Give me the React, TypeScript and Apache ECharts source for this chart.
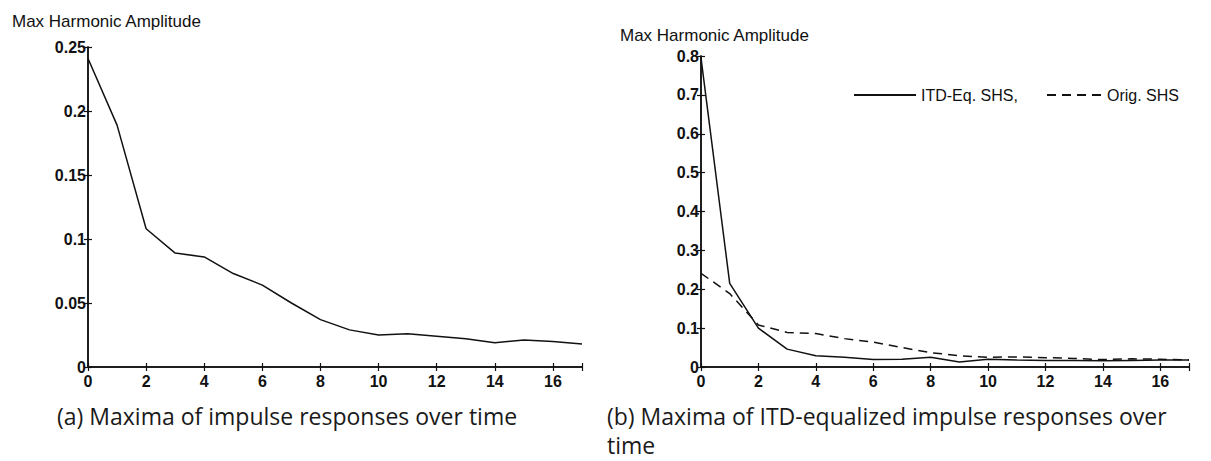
import { useEffect, useRef } from "react";
import * as echarts from "echarts";

// Time index (x axis) shared by both panels
const steps: number[] = [0, 1, 2, 3, 4, 5, 6, 7, 8, 9, 10, 11, 12, 13, 14, 15, 16, 17];

// Maxima of the original impulse responses (panel a, and the dashed curve in panel b)
const origMax: number[] = [
  0.241, 0.189, 0.108, 0.089, 0.086, 0.073, 0.064, 0.05, 0.037, 0.029, 0.025, 0.026, 0.024,
  0.022, 0.019, 0.021, 0.02, 0.018,
];

// Maxima of the ITD-equalized impulse responses (solid curve in panel b)
const itdEqMax: number[] = [
  0.795, 0.215, 0.1, 0.046, 0.029, 0.025, 0.019, 0.02, 0.025, 0.013, 0.02, 0.018, 0.017,
  0.017, 0.016, 0.017, 0.018, 0.018,
];

const xTickValues: number[] = [0, 2, 4, 6, 8, 10, 12, 14, 16];
const yTicksA: number[] = [0, 0.05, 0.1, 0.15, 0.2, 0.25];
const yTicksB: number[] = [0, 0.1, 0.2, 0.3, 0.4, 0.5, 0.6, 0.7, 0.8];

const axisTitle = "Max Harmonic Amplitude";
const seriesNames = ["ITD-Eq. SHS,", "Orig. SHS"];
const captionA = "(a) Maxima of impulse responses over time";
const captionB = "(b) Maxima of ITD-equalized impulse responses over\ntime";

const FONT = "'Liberation Sans', Arial, Helvetica, sans-serif";
const CAPTION_FONT = "'Open Sans', Lato, sans-serif";
const INK = "#111";

function App() {
  const ref = useRef<HTMLDivElement>(null);

  useEffect(() => {
    if (!ref.current) return;
    const chart = echarts.init(ref.current, undefined, { renderer: "svg" });

    const axisLine = { show: true, lineStyle: { color: INK, width: 1.5 } };
    const tick = { show: true, inside: true, length: 4, lineStyle: { color: INK, width: 1.2 } };
    const tickLabel = {
      color: INK,
      fontFamily: FONT,
      fontSize: 16,
      fontWeight: "bold" as const,
    };

    const xAxisFor = (gridIndex: number, position: "bottom" | "top") => ({
      type: "value" as const,
      gridIndex,
      position,
      min: steps[0],
      max: steps[steps.length - 1],
      interval: xTickValues[1] - xTickValues[0],
      axisLine,
      axisTick: tick,
      splitLine: { show: false },
      axisLabel:
        position === "bottom"
          ? {
              ...tickLabel,
              margin: 6,
              formatter: (v: number) => (xTickValues.includes(v) ? String(v) : ""),
            }
          : { show: false },
    });

    const yAxisFor = (
      gridIndex: number,
      position: "left" | "right",
      ticks: number[],
    ) => ({
      type: "value" as const,
      gridIndex,
      position,
      min: ticks[0],
      max: ticks[ticks.length - 1],
      interval: ticks[1] - ticks[0],
      axisLine,
      axisTick: tick,
      splitLine: { show: false },
      axisLabel:
        position === "left"
          ? {
              ...tickLabel,
              margin: 2,
              formatter: (v: number) => String(parseFloat(v.toFixed(2))),
            }
          : { show: false },
    });

    const lineSeries = (
      name: string,
      values: number[],
      xAxisIndex: number,
      yAxisIndex: number,
      dashed: boolean,
    ) => ({
      name,
      type: "line" as const,
      xAxisIndex,
      yAxisIndex,
      data: steps.map((s, i) => [s, values[i]]),
      symbol: "none",
      lineStyle: {
        color: INK,
        width: 1.5,
        type: dashed ? ([9, 6] as number[]) : ("solid" as const),
      },
      itemStyle: { color: INK },
      emphasis: { disabled: true },
      z: 3,
    });

    const legendText = { color: INK, fontFamily: FONT, fontSize: 16 };

    chart.setOption({
      animation: false,
      backgroundColor: "#fff",
      textStyle: { fontFamily: FONT },
      grid: [
        { left: 88, top: 47, width: 494, height: 320 },
        { left: 701, top: 56, width: 488, height: 311 },
      ],
      xAxis: [
        xAxisFor(0, "bottom"),
        xAxisFor(0, "top"),
        xAxisFor(1, "bottom"),
        xAxisFor(1, "top"),
      ],
      yAxis: [
        yAxisFor(0, "left", yTicksA),
        yAxisFor(0, "right", yTicksA),
        yAxisFor(1, "left", yTicksB),
        yAxisFor(1, "right", yTicksB),
      ],
      legend: [
        {
          data: [seriesNames[0]],
          left: 853,
          top: 87,
          padding: 0,
          itemWidth: 62,
          itemHeight: 14,
          itemStyle: { opacity: 0 },
          textStyle: legendText,
          selectedMode: false,
        },
        {
          data: [seriesNames[1]],
          left: 1046,
          top: 87,
          padding: 0,
          itemWidth: 58,
          itemHeight: 14,
          itemStyle: { opacity: 0 },
          textStyle: { ...legendText, padding: [0, 0, 0, -3] },
          selectedMode: false,
        },
      ],
      series: [
        lineSeries("panelA", origMax, 0, 0, false),
        lineSeries(seriesNames[0], itdEqMax, 2, 2, false),
        lineSeries(seriesNames[1], origMax, 2, 2, true),
      ],
      graphic: [
        {
          type: "text",
          x: 12,
          y: 21,
          style: {
            text: axisTitle,
            fill: INK,
            font: `17px ${FONT}`,
            textVerticalAlign: "middle",
          },
        },
        {
          type: "text",
          x: 620,
          y: 35,
          style: {
            text: axisTitle,
            fill: INK,
            font: `17px ${FONT}`,
            textVerticalAlign: "middle",
          },
        },
        {
          type: "text",
          x: 57,
          y: 416,
          style: {
            text: captionA,
            fill: "#1a1a1a",
            font: `400 23px ${CAPTION_FONT}`,
            textVerticalAlign: "middle",
          },
        },
        {
          type: "text",
          x: 607,
          y: 430,
          style: {
            text: captionB,
            fill: "#1a1a1a",
            font: `400 23px ${CAPTION_FONT}`,
            lineHeight: 29,
            textVerticalAlign: "middle",
          },
        },
      ],
    });

    return () => chart.dispose();
  }, []);

  return (
    <div
      ref={ref}
      style={{ position: "absolute", left: 0, top: 0, width: 1211, height: 461 }}
    />
  );
}

export default App;
